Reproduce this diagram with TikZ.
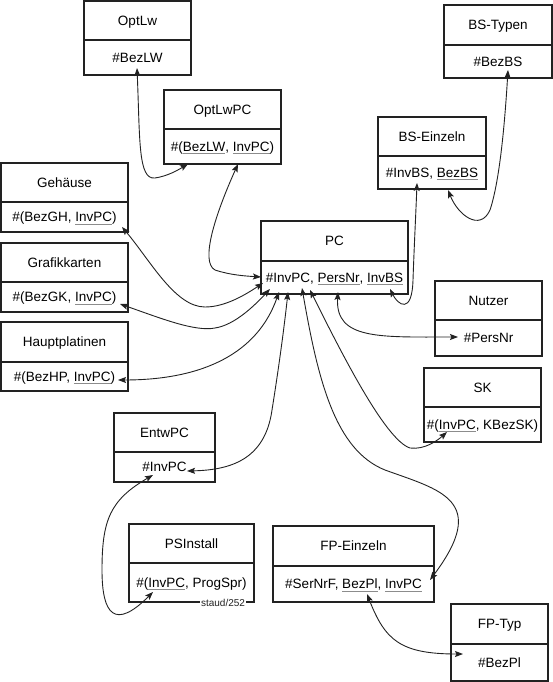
\documentclass[tikz,border=0pt]{standalone}
\usepackage{fontspec}
\setmainfont{Liberation Sans}
\usetikzlibrary{arrows.meta}
\definecolor{ulgray}{HTML}{8C8C8C}
\definecolor{linecol}{HTML}{222222}
\newcommand\ulw[1]{\setbox0\hbox{#1}\rlap{\color{ulgray}\rule[-2.6pt]{\wd0}{0.9pt}}\box0}
% name, x1, y1, x2, ydiv, y2, title, attributes
\newcommand\erbox[8]{%
  \node[tbox, minimum width={(#4-#2)*1pt}, minimum height={(#5-#3)*1pt}] (#1) at ({(#2+#4)/2},{(#3+#5)/2}) {#7};
  \node[tbox, minimum width={(#4-#2)*1pt}, minimum height={(#6-#5)*1pt}] (#1-a) at ({(#2+#4)/2},{(#5+#6)/2}) {#8};
}
\begin{document}
\begin{tikzpicture}[x=1pt,y=-1pt,
  tbox/.style={draw=linecol, line width=1.1pt, inner sep=0pt, text height=9.7pt, text depth=0pt, font=\fontsize{13.5}{16}\selectfont},
  tip/.tip={Stealth[length=8pt,width=6pt,inset=1.5pt]},
  conn/.style={draw=linecol, line width=0.9pt, tip-tip}]
\useasboundingbox (0,0) rectangle (553,682);

\erbox{optlw}{84}{1}{191}{40}{75}{OptLw}{\#BezLW}
\erbox{optlwpc}{164}{90}{281}{129}{164}{OptLwPC}{\#(\ulw{BezLW}, \ulw{InvPC})}
\erbox{bstyp}{444}{5}{552}{45}{78}{BS-Typen}{\#BezBS}
\erbox{bsein}{378}{117}{486}{156}{189}{BS-Einzeln}{\#InvBS, \ulw{BezBS}}
\erbox{geh}{1}{163}{128}{202}{232}{Gehäuse}{\#(BezGH, \ulw{InvPC})}
\erbox{gk}{1}{243}{128}{282}{312}{Grafikkarten}{\#(BezGK, \ulw{InvPC})}
\erbox{hp}{1}{322}{128}{362}{391}{Hauptplatinen}{\#(BezHP, \ulw{InvPC})}
\erbox{pc}{261}{221}{408}{261}{294}{PC}{\#InvPC, \ulw{PersNr}, \ulw{InvBS}}
\erbox{nutzer}{435}{281}{542}{320}{356}{Nutzer}{\#PersNr}
\erbox{sk}{424}{368}{541}{407}{442}{SK}{\#(\ulw{InvPC}, KBezSK)}
\erbox{entw}{114}{413}{215}{452}{482}{EntwPC}{\#InvPC}
\erbox{psi}{129}{524}{254}{563}{602}{PSInstall}{\#(\ulw{InvPC}, ProgSpr)}
\erbox{fpe}{273}{526}{434}{566}{602}{FP-Einzeln}{\#SerNrF, \ulw{BezPl}, \ulw{InvPC}}
\erbox{fpt}{451}{604}{548}{644}{681}{FP-Typ}{\#BezPl}

\node[fill=white, inner sep=0.8pt, font=\fontsize{10}{12}\selectfont, text=linecol] (staud) at (223,603) {staud/252};

% ports
\coordinate (p-optlw) at (137,68);
\coordinate (p-optlwpc1) at (188,164);
\coordinate (p-optlwpc2) at (238,164);
\coordinate (p-pc1) at (261,277);
\coordinate (p-pc2) at (263,283);
\coordinate (p-pc3) at (270,289);
\coordinate (p-pc4) at (279,292);
\coordinate (p-pc5) at (288,292);
\coordinate (p-pc6) at (302,288);
\coordinate (p-pc7) at (310,290);
\coordinate (p-pc8) at (338,292);
\coordinate (p-pc9) at (390,289);
\coordinate (p-geh) at (122,227);
\coordinate (p-gk) at (120,304);
\coordinate (p-hp) at (118,380);
\coordinate (p-entw1) at (187,471);
\coordinate (p-entw2) at (153,475);
\coordinate (p-psi) at (153,592);
\coordinate (p-fpe1) at (430,580);
\coordinate (p-fpe2) at (367,594);
\coordinate (p-fpt) at (463,654);
\coordinate (p-sk) at (447,432);
\coordinate (p-nutzer) at (458,337);
\coordinate (p-bsein1) at (417,183);
\coordinate (p-bsein2) at (448,190);
\coordinate (p-bstyp) at (508,70);

% connectors
\draw[conn] (p-optlw) .. controls (140,140) and (138,180) .. (155,178) .. controls (168,176) and (178,170) .. (p-optlwpc1);
\draw[conn] (p-optlwpc2) .. controls (215,215) and (200,262) .. (215,270) .. controls (230,275) and (245,276) .. (p-pc1);
\draw[conn] (p-geh) .. controls (150,260) and (175,307) .. (205,307) .. controls (225,307) and (245,295) .. (p-pc2);
\draw[conn] (p-gk) .. controls (160,318) and (195,332) .. (215,328) .. controls (235,325) and (255,305) .. (p-pc3);
\draw[conn] (p-hp) .. controls (205,380) and (258,352) .. (p-pc4);
\draw[conn] (p-entw1) .. controls (230,470) and (265,460) .. (272,410) .. controls (280,360) and (285,320) .. (p-pc5);
\draw[conn] (p-pc6) .. controls (318,380) and (335,450) .. (385,470) .. controls (440,490) and (490,500) .. (p-fpe1);
\draw[conn] (p-pc7) .. controls (340,350) and (385,440) .. (410,448) .. controls (425,450) and (438,440) .. (p-sk);
\draw[conn] (p-pc8) .. controls (335,340) and (380,337) .. (p-nutzer);
\draw[conn] (p-pc9) .. controls (398,305) and (412,315) .. (413,280) .. controls (414,250) and (416,210) .. (p-bsein1);
\draw[conn] (p-bsein2) .. controls (458,215) and (480,232) .. (490,210) .. controls (500,180) and (505,120) .. (p-bstyp);
\draw[conn] (p-entw2) .. controls (110,500) and (102,520) .. (102,570) .. controls (102,615) and (115,630) .. (p-psi);
\draw[conn] (p-fpe2) .. controls (385,640) and (400,654) .. (p-fpt);
\end{tikzpicture}
\end{document}
